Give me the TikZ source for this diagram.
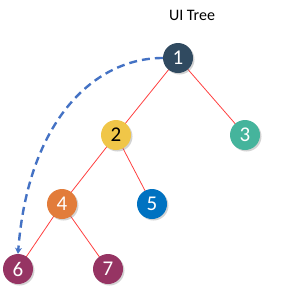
\documentclass[tikz,border=0pt]{standalone}
\usepackage{fontspec}
\setmainfont{Carlito}
\usetikzlibrary{arrows.meta,shadows}
\definecolor{navy}{RGB}{48,74,96}
\definecolor{mustard}{RGB}{240,198,72}
\definecolor{teal}{RGB}{69,180,156}
\definecolor{tangerine}{RGB}{226,124,58}
\definecolor{azure}{RGB}{0,114,193}
\definecolor{plum}{RGB}{150,52,99}
\definecolor{arcblue}{RGB}{68,114,196}
\definecolor{edgered}{RGB}{255,64,64}
\begin{document}
\begin{tikzpicture}[
  x=1pt, y=-1pt,
  every node/.style={font=\fontsize{21}{23}\selectfont},
  leaf/.style={circle, minimum size=30pt, inner sep=0pt, text=white,
               drop shadow={shadow xshift=1.5pt, shadow yshift=-1.5pt, opacity=0.35}},
  link/.style={edgered, line width=0.8pt},
  >=Stealth
]
\useasboundingbox (0,0) rectangle (304,300);

\node[font=\fontsize{16}{18}\selectfont] (title) at (192, 15) {UI Tree};

% tree edges
\coordinate (c1) at (178, 58);
\coordinate (c2) at (116, 135);
\coordinate (c3) at (245, 135);
\coordinate (c4) at (62, 204);
\coordinate (c5) at (152, 204);
\coordinate (c6) at (18, 269);
\coordinate (c7) at (108, 269);

\draw[link] (c1) -- (c2);
\draw[link] (c1) -- (c3);
\draw[link] (c2) -- (c4);
\draw[link] (c2) -- (c5);
\draw[link] (c4) -- (c6);
\draw[link] (c4) -- (c7);

\node[leaf, fill=navy] (n1) at (c1) {1};
\node[leaf, fill=mustard, text=black] (n2) at (c2) {2};
\node[leaf, fill=teal] (n3) at (c3) {3};
\node[leaf, fill=tangerine] (n4) at (c4) {4};
\node[leaf, fill=azure] (n5) at (c5) {5};
\node[leaf, fill=plum] (n6) at (c6) {6};
\node[leaf, fill=plum] (n7) at (c7) {7};

\draw[arcblue, line width=2.4pt, dash pattern=on 8pt off 5pt,
      arrows={-Stealth[length=6pt, width=7pt]}]
  (n1.west) .. controls (95, 58) and (28, 120) .. (n6.north);

\end{tikzpicture}
\end{document}
